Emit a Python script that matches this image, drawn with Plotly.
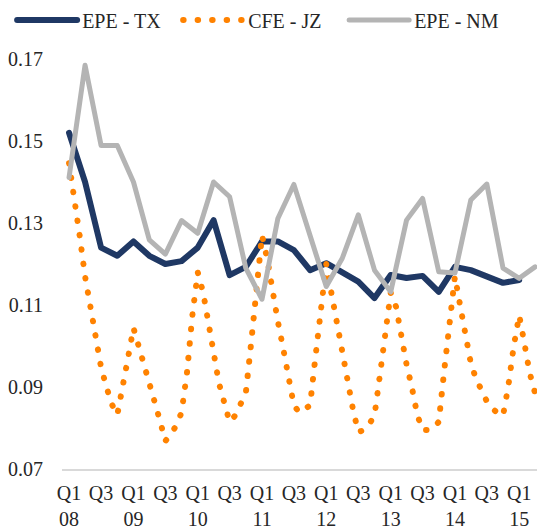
import pandas as pd
import plotly.graph_objects as go

# ---------------- data ----------------
quarters_tx = pd.date_range("2008-01-01", "2015-01-01", freq="QS")
quarters_nm = pd.date_range("2008-01-01", "2015-04-01", freq="QS")
months_cfe = pd.date_range("2008-01-01", "2015-04-01", freq="MS")

epe_tx = [0.152, 0.140, 0.124, 0.122,
          0.1255, 0.122, 0.120, 0.1207,
          0.124, 0.1307, 0.1173, 0.1193,
          0.1255, 0.1255, 0.1234, 0.1185,
          0.1202, 0.1181, 0.1157, 0.1117,
          0.1173, 0.1166, 0.1171, 0.1132,
          0.1193, 0.1185, 0.1169, 0.1154,
          0.1161]

epe_nm = [0.1411, 0.1685, 0.1489, 0.1489,
          0.140, 0.1259, 0.1224, 0.1306,
          0.1275, 0.140, 0.1364, 0.119,
          0.1114, 0.1311, 0.1394, 0.127,
          0.1145, 0.1214, 0.132, 0.1185,
          0.1132, 0.1307, 0.136, 0.1181,
          0.1178, 0.1356, 0.1395, 0.119,
          0.1165, 0.1193]

cfe_jz = [0.1446, 0.1366, 0.127, 0.117, 0.109, 0.102, 0.0948, 0.0899, 0.0857, 0.0832, 0.0895, 0.0971,   # 2008
          0.1044, 0.1000, 0.0953, 0.0910, 0.0864, 0.0817, 0.0768, 0.0785, 0.0806, 0.0838, 0.0935, 0.1073,  # 2009
          0.1180, 0.1130, 0.1050, 0.0985, 0.0910, 0.0863, 0.0815, 0.0830, 0.0855, 0.0885, 0.1010, 0.1155,  # 2010
          0.1270, 0.1210, 0.1135, 0.1060, 0.0995, 0.0920, 0.0855, 0.0838, 0.0845, 0.0855, 0.0975, 0.1100,  # 2011
          0.1200, 0.1125, 0.1055, 0.0980, 0.0910, 0.0845, 0.0790, 0.0795, 0.0810, 0.0830, 0.0930, 0.1035,  # 2012
          0.1130, 0.1095, 0.1025, 0.0955, 0.0900, 0.0832, 0.0795, 0.0795, 0.0800, 0.0815, 0.0940, 0.1060,  # 2013
          0.1170, 0.1095, 0.1020, 0.0958, 0.0920, 0.0892, 0.0865, 0.0848, 0.0836, 0.0830, 0.0905, 0.1000,  # 2014
          0.1075, 0.1003, 0.0935, 0.0885]                                                                  # 2015

tick_dates = pd.date_range("2008-01-01", "2015-01-01", freq="6MS")
tick_labels = ["Q1<br>08", "Q3", "Q1<br>09", "Q3", "Q1<br>10", "Q3", "Q1<br>11", "Q3",
               "Q1<br>12", "Q3", "Q1<br>13", "Q3", "Q1<br>14", "Q3", "Q1<br>15"]
y_ticks = [0.07, 0.09, 0.11, 0.13, 0.15, 0.17]

# ---------------- figure ----------------
FONT = "Liberation Serif"
TXT = "#262626"
fig = go.Figure()
fig.add_trace(go.Scatter(x=quarters_tx, y=epe_tx, mode="lines", name="EPE - TX",
                         line=dict(color="#1f3864", width=6)))
fig.add_trace(go.Scatter(x=months_cfe, y=cfe_jz, mode="lines", name="CFE - JZ",
                         line=dict(color="#ff8200", width=6, dash="0.5px,14px")))
fig.add_trace(go.Scatter(x=quarters_nm, y=epe_nm, mode="lines", name="EPE - NM",
                         line=dict(color="#b4b4b4", width=5)))

fig.update_layout(
    width=537, height=530,
    margin=dict(l=62, r=0, t=59, b=61, autoexpand=False),
    paper_bgcolor="white", plot_bgcolor="white",
    font=dict(family=FONT, size=20, color=TXT),
    showlegend=True,
    legend=dict(orientation="h", x=-0.105, xanchor="left", y=1.095, yanchor="middle",
                font=dict(family=FONT, size=20, color=TXT),
                itemwidth=60, entrywidth=91, entrywidthmode="pixels",
                bgcolor="rgba(0,0,0,0)", traceorder="normal"),
    xaxis=dict(type="date", range=["2007-11-22", "2015-04-12"],
               tickvals=tick_dates, ticktext=tick_labels, tickangle=0,
               showgrid=False, zeroline=False, showline=True, linecolor="#d9d9d9", linewidth=1.5,
               ticks="", ticklabelstandoff=5, automargin=False,
               tickfont=dict(family=FONT, size=20, color=TXT)),
    yaxis=dict(range=[0.07, 0.17], tickvals=y_ticks, ticktext=[f"{v:.2f}" for v in y_ticks],
               showgrid=False, zeroline=False, showline=False, ticks="",
               ticklabelstandoff=18, automargin=False,
               tickfont=dict(family=FONT, size=20, color=TXT)),
)

post = """
(function(){
  document.body.style.margin = '0';
  document.body.style.padding = '0';
  var gd = document.getElementById('{plot_id}');
  function fix(){
    document.querySelectorAll('path.js-line').forEach(function(p){
      p.style.strokeLinecap = 'round';
      p.style.strokeLinejoin = 'round';
    });
  }
  fix();
  if (gd && gd.on) { gd.on('plotly_afterplot', fix); }
  setTimeout(fix, 0);
})();
"""
fig.write_html("out.html", post_script=post, config={"displayModeBar": False})
